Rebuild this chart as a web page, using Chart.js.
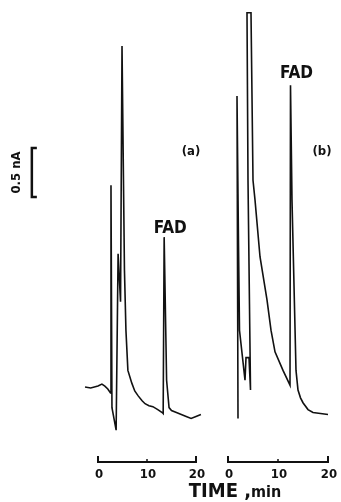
<!DOCTYPE html>
<html>
<head>
<meta charset="utf-8">
<script src="https://cdn.jsdelivr.net/npm/chart.js@4/dist/chart.umd.min.js"></script>
<style>
  html, body { margin: 0; padding: 0; background: #fff; }
  canvas { display: block; }
</style>
</head>
<body>
<canvas id="chrom" width="341" height="502"></canvas>
<script>
// trace (a) - time in min, current in nA (arbitrary zero)
const timeA = [-2.65, -1.5, 0, 0.8, 1.4, 2.0, 2.55, 2.65, 2.85, 3.7, 4.1, 4.6, 4.9, 5.4, 5.7, 6.1, 6.9, 7.5, 8.2, 9.0, 9.6, 10.4, 11.2, 12.2, 13.1, 13.3, 13.5, 14.0, 14.5, 15.0, 16.0, 17.0, 18.0, 19.0, 20.0, 21.0];
const currentA = [0.54, 0.53, 0.55, 0.57, 0.55, 0.52, 0.48, 2.60, 0.33, 0.10, 1.90, 1.41, 4.02, 1.73, 1.12, 0.71, 0.58, 0.50, 0.45, 0.40, 0.37, 0.35, 0.34, 0.31, 0.28, 0.27, 2.07, 0.61, 0.33, 0.30, 0.28, 0.26, 0.24, 0.22, 0.24, 0.26];

// trace (b)
const timeB = [2.0, 1.8, 2.1, 2.3, 3.4, 3.6, 4.2, 4.5, 4.0, 3.8, 4.6, 5.0, 5.4, 6.4, 7.8, 8.6, 9.4, 11.0, 12.4, 12.5, 12.8, 13.6, 14.0, 14.5, 15.0, 16.0, 17.0, 18.5, 20.0];
const currentB = [0.22, 3.51, 2.00, 1.12, 0.61, 0.84, 0.84, 0.51, 2.65, 4.36, 4.36, 2.65, 2.45, 1.87, 1.43, 1.12, 0.90, 0.71, 0.56, 3.62, 2.45, 0.71, 0.51, 0.43, 0.38, 0.31, 0.28, 0.27, 0.26];

const timeTicks = [0, 10, 20];
const scaleBarNA = 0.5;

const toPoints = (ts, vs) => ts.map((t, i) => ({ x: t, y: vs[i] }));

const labelFont = '"Liberation Sans Narrow", "DejaVu Sans Condensed", "Liberation Sans", sans-serif';

// draw the time bars, labels and the current scale bar on top
const annotations = {
    id: 'annotations',
    afterDraw: (chart) => {
        const { ctx, scales } = chart;
        const y = scales.y;
        ctx.save();
        ctx.strokeStyle = '#111';
        ctx.fillStyle = '#111';
        ctx.lineCap = 'butt';

        // time axes under each trace
        const barY = 462;
        for (const id of ['xA', 'xB']) {
            const sx = scales[id];
            const x0 = sx.getPixelForValue(timeTicks[0]);
            const x1 = sx.getPixelForValue(timeTicks[timeTicks.length - 1]);
            ctx.lineWidth = 2;
            ctx.beginPath();
            ctx.moveTo(x0, barY - 6);
            ctx.lineTo(x0, barY);
            ctx.lineTo(x1, barY);
            ctx.lineTo(x1, barY - 6);
            ctx.stroke();
            ctx.lineWidth = 1.5;
            for (const t of timeTicks.slice(1, -1)) {
                const xt = sx.getPixelForValue(t);
                ctx.beginPath();
                ctx.moveTo(xt, barY - 3);
                ctx.lineTo(xt, barY);
                ctx.stroke();
            }
            ctx.font = 'bold 13px ' + labelFont;
            ctx.textAlign = 'center';
            ctx.textBaseline = 'alphabetic';
            for (const t of timeTicks) {
                ctx.fillText(String(t), sx.getPixelForValue(t) + 1, barY + 16);
            }
        }

        // axis title
        ctx.textAlign = 'left';
        const title1 = 'TIME ,';
        ctx.font = 'bold 20px ' + labelFont;
        const w1 = ctx.measureText(title1).width;
        ctx.font = 'bold 16px ' + labelFont;
        const w2 = ctx.measureText('min').width;
        const tx = 235 - (w1 + w2) / 2;
        ctx.font = 'bold 20px ' + labelFont;
        ctx.fillText(title1, tx, 497);
        ctx.font = 'bold 16px ' + labelFont;
        ctx.fillText('min', tx + w1, 497);

        // panel letters
        ctx.font = 'bold 13px ' + labelFont;
        ctx.textAlign = 'center';
        ctx.fillText('(a)', 191, 155);
        ctx.fillText('(b)', 322, 155);

        // FAD labels above the FAD peaks
        ctx.font = 'bold 17px ' + labelFont;
        const fadA = chart.getDatasetMeta(0).data[26];
        const fadB = chart.getDatasetMeta(1).data[19];
        ctx.fillText('FAD', fadA.x + 6, fadA.y - 4);
        ctx.fillText('FAD', fadB.x + 6, fadB.y - 7);

        // 0.5 nA scale bar
        const sxA = scales.xA;
        const bx = sxA.getPixelForValue(-13.5);
        const yTop = y.getPixelForValue(2.98);
        const yBot = y.getPixelForValue(2.98 - scaleBarNA);
        ctx.lineWidth = 2.5;
        ctx.beginPath();
        ctx.moveTo(bx + 5, yTop);
        ctx.lineTo(bx, yTop);
        ctx.lineTo(bx, yBot);
        ctx.lineTo(bx + 5, yBot);
        ctx.stroke();
        ctx.save();
        ctx.translate(bx - 15, (yTop + yBot) / 2);
        ctx.rotate(-Math.PI / 2);
        ctx.font = 'bold 13px ' + labelFont;
        ctx.textAlign = 'center';
        ctx.textBaseline = 'middle';
        ctx.fillText(scaleBarNA + ' nA', 0, 0);
        ctx.restore();

        ctx.restore();
    }
};

const ctx = document.getElementById('chrom').getContext('2d');
const chart = new Chart(ctx, {
    type: 'scatter',
    data: {
        datasets: [{
            label: 'a',
            data: toPoints(timeA, currentA),
            xAxisID: 'xA',
            showLine: true,
            borderColor: '#111',
            borderWidth: 1.6,
            pointRadius: 0,
            tension: 0
        }, {
            label: 'b',
            data: toPoints(timeB, currentB),
            xAxisID: 'xB',
            showLine: true,
            borderColor: '#111',
            borderWidth: 1.6,
            pointRadius: 0,
            tension: 0
        }]
    },
    options: {
        responsive: false,
        animation: false,
        layout: { padding: 0 },
        plugins: { legend: { display: false }, tooltip: { enabled: false } },
        scales: {
            xA: { type: 'linear', display: false, min: -20, max: 49.59 },
            xB: { type: 'linear', display: false, min: -45.6, max: 22.6 },
            y: { type: 'linear', display: false, min: -0.633, max: 4.49 }
        }
    },
    plugins: [annotations]
});
</script>
</body>
</html>
